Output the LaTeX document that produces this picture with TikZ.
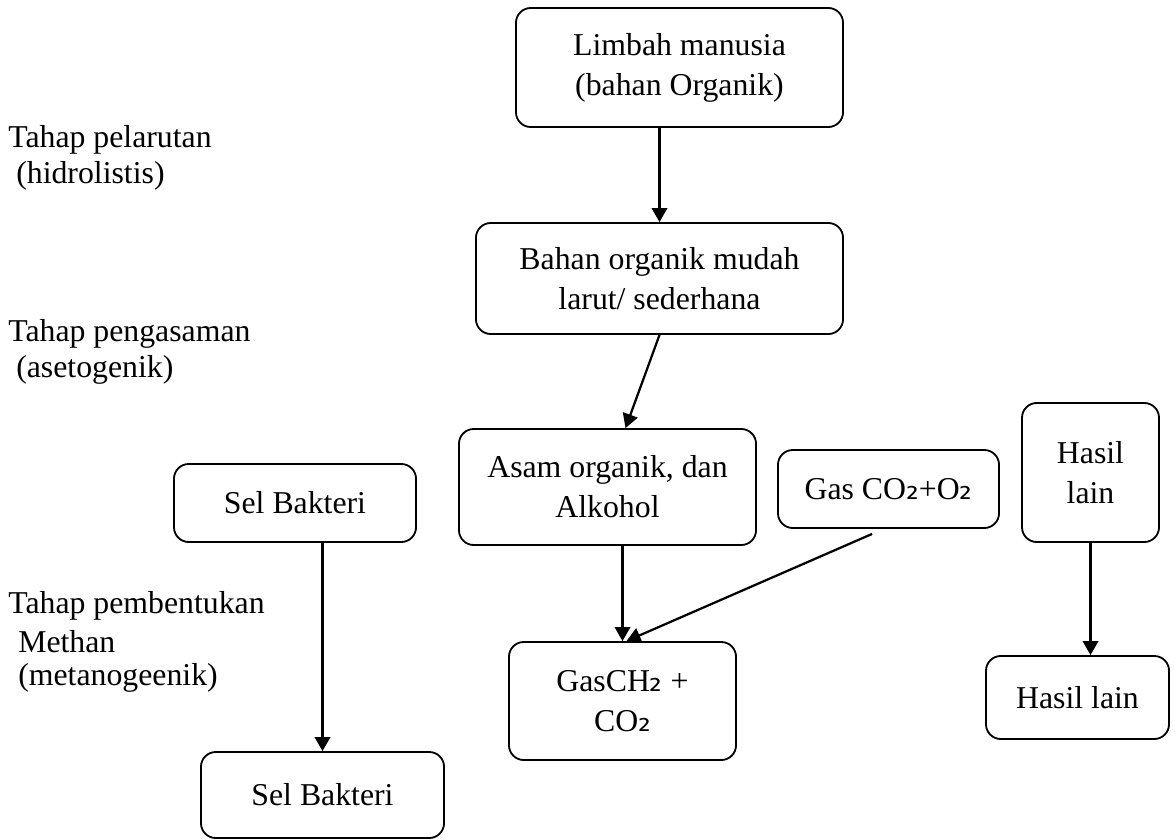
\documentclass[tikz,border=0pt]{standalone}
\usepackage{fontspec}
\setmainfont{Liberation Serif}
\newfontfamily\subfont{DejaVu Sans}
\usetikzlibrary{arrows.meta}

\begin{document}
\begin{tikzpicture}[x=0.025cm, y=-0.025cm]
% Styles
\tikzset{
    txt/.style={font=\fontsize{22.6pt}{28.5pt}\selectfont, inner sep=0pt},
    stagebox/.style={txt, draw, line width=1.3pt, rounded corners=0.37cm, align=center},
    arr/.style={line width=1.6pt, -{Triangle[length=10pt, width=11pt]}}
}
\useasboundingbox (0, 0) rectangle (1175, 840);

% Nodes
\node[stagebox, minimum width=8.175cm, minimum height=2.975cm] (LM) at (679.5, 67.5) {Limbah manusia\\(bahan Organik)};
\node[stagebox, minimum width=9.175cm, minimum height=2.775cm] (BO) at (659.5, 278.5) {Bahan organik mudah\\larut/ sederhana};
\node[stagebox, minimum width=7.425cm, minimum height=2.9cm] (AO) at (607.5, 487) {Asam organik, dan\\Alkohol};
\node[stagebox, minimum width=5.525cm, minimum height=1.95cm] (GC) at (888.5, 489) {Gas CO{\subfont ₂}+O{\subfont ₂}};
\node[stagebox, minimum width=3.425cm, minimum height=3.475cm] (HL1) at (1090.5, 472.5) {Hasil\\lain};
\node[stagebox, minimum width=6.05cm, minimum height=1.95cm] (SB1) at (295, 503) {Sel Bakteri};
\node[stagebox, minimum width=5.675cm, minimum height=2.95cm] (GM) at (622.5, 701) {GasCH{\subfont ₂} +\\CO{\subfont ₂}};
\node[stagebox, minimum width=4.575cm, minimum height=2.075cm] (HL2) at (1077.5, 697.5) {Hasil lain};
\node[stagebox, minimum width=6.075cm, minimum height=2.15cm] (SB2) at (322.5, 795) {Sel Bakteri};

% Stage labels
\node[txt, anchor=west] (T1a) at (8, 140) {Tahap pelarutan};
\node[txt, anchor=west] (T1b) at (16, 176) {(hidrolistis)};
\node[txt, anchor=west] (T2a) at (8, 334) {Tahap pengasaman};
\node[txt, anchor=west] (T2b) at (16, 370) {(asetogenik)};
\node[txt, anchor=west] (T3a) at (8, 606) {Tahap pembentukan};
\node[txt, anchor=west] (T3b) at (18, 642) {Methan};
\node[txt, anchor=west] (T3c) at (18, 678) {(metanogeenik)};

% Connections
\draw[arr] (LM.south -| BO.north) -- (BO.north);
\draw[arr] (BO.south) -- ([xshift=0.45cm]AO.north);
\draw[arr] (AO.south -| GM.north) -- (GM.north);
\draw[arr] ([xshift=-0.41cm, yshift=-0.125cm]GC.south) -- ([xshift=0.1cm]GM.north);
\draw[arr] (SB1.south -| SB2.north) -- (SB2.north);
\draw[arr] (HL1.south) -- (HL1.south |- HL2.north);
\end{tikzpicture}
\end{document}
